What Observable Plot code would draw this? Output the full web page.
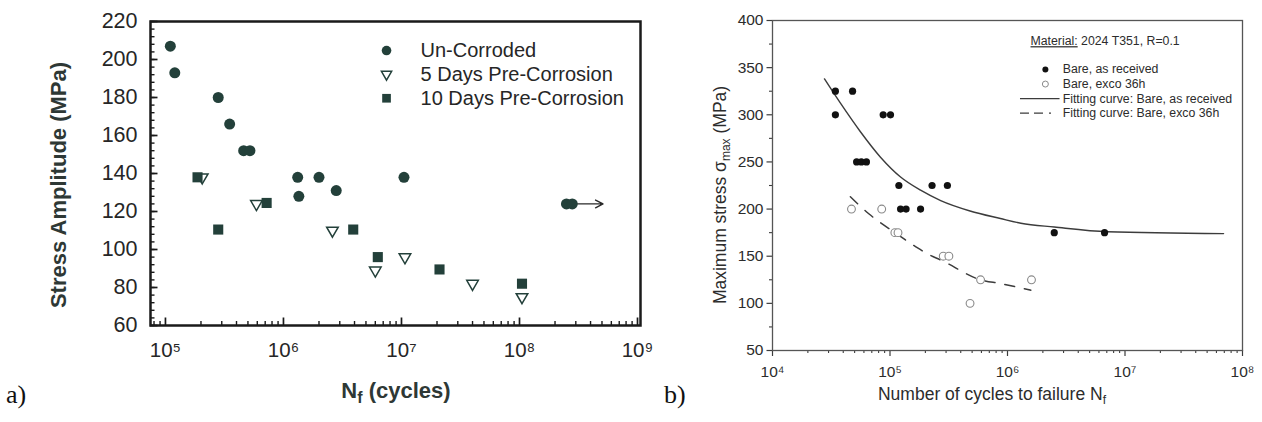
<!DOCTYPE html>
<html>
<head>
<meta charset="utf-8">
<script src="https://cdn.jsdelivr.net/npm/d3@7"></script>
<script src="https://cdn.jsdelivr.net/npm/@observablehq/plot@0.6"></script>
<style>
  body { margin: 0; background: #fff; }
  #page { position: relative; width: 1262px; height: 422px; overflow: hidden; background: #fff; }
  .panel { position: absolute; top: 0; }
  .tag { position: absolute; font-family: "Liberation Serif", "DejaVu Serif", serif; font-size: 26px; color: #111; line-height: 30px; }
</style>
</head>
<body>
<div id="page">
  <div id="pa" class="panel" style="left:0; width:660px; height:422px"></div>
  <div id="pb" class="panel" style="left:660px; width:602px; height:422px"></div>
  <div class="tag" style="left:6px; top:380px">a)</div>
  <div class="tag" style="left:664px; top:380px">b)</div>
</div>
<script>
// ---------- Panel a data ----------
const uncorrodedN = [1.1e5, 1.2e5, 2.8e5, 3.5e5, 4.6e5, 5.2e5, 1.32e6, 1.35e6, 2.0e6, 2.8e6, 1.05e7, 2.5e8, 2.8e8];
const uncorrodedS = [207, 193, 180, 166, 152, 152, 138, 128, 138, 131, 138, 124, 124];
const pre5N = [2.05e5, 5.9e5, 2.6e6, 6.0e6, 1.07e7, 4.0e7, 1.05e8];
const pre5S = [138, 124, 110, 89, 96, 82, 75];
const pre10N = [1.87e5, 2.8e5, 7.2e5, 3.9e6, 6.3e6, 2.1e7, 1.05e8];
const pre10S = [138, 110.5, 124.5, 110.5, 96, 89.5, 82];
const runoutArrow = [{from: 2.8e8, to: 5.1e8, s: 124}];
const legendA = ["Un-Corroded", "5 Days Pre-Corrosion", "10 Days Pre-Corrosion"];
const xTicksA = [1e5, 1e6, 1e7, 1e8, 1e9];
const yTicksA = [60, 80, 100, 120, 140, 160, 180, 200, 220];

// ---------- Panel b data ----------
const bareRecN = [3.43e4, 3.43e4, 4.8e4, 5.2e4, 5.7e4, 6.3e4, 8.75e4, 1.01e5, 1.19e5, 1.23e5, 1.37e5, 1.82e5, 2.28e5, 3.08e5, 2.5e6, 6.7e6];
const bareRecS = [325, 300, 325, 250, 250, 250, 300, 300, 225, 200, 200, 200, 225, 225, 175, 175];
const bareExcoN = [4.7e4, 8.5e4, 1.1e5, 1.17e5, 2.84e5, 3.17e5, 4.8e5, 5.9e5, 1.6e6];
const bareExcoS = [200, 200, 175, 175, 150, 150, 100, 125, 125];
const fitRecN = [2.77e4, 3.8e4, 5.6e4, 8.3e4, 1.23e5, 1.82e5, 2.7e5, 4.8e5, 8.7e5, 1.3e6, 2.5e6, 7.1e6, 6.9e7];
const fitRecS = [338, 312, 282, 255, 234, 220, 209, 198, 190, 185, 181, 176, 174];
const fitExcoN = [4.6e4, 6.6e4, 1.1e5, 1.66e5, 2.2e5, 2.7e5, 5.9e5, 8.7e5, 1.58e6];
const fitExcoS = [213, 195, 175, 160, 151, 146, 125, 121, 114];
const materialNote = ["Material: 2024 T351, R=0.1"];
const legendB = ["Bare, as received", "Bare, exco 36h", "Fitting curve: Bare, as received", "Fitting curve: Bare, exco 36h"];
const xTicksB = [1e4, 1e5, 1e6, 1e7, 1e8];
const yTicksB = [50, 100, 150, 200, 250, 300, 350, 400];

// ---------- helpers ----------
const rows = (N, S) => N.map((n, i) => ({n, s: S[i]}));
const supDigits = {"0":"⁰","1":"¹","2":"²","3":"³","4":"⁴","5":"⁵","6":"⁶","7":"⁷","8":"⁸","9":"⁹"};
const pow10 = d => "10" + String(Math.round(Math.log10(d))).split("").map(c => supDigits[c]).join("");
const logMinor = (k0, k1) => { const out = []; for (let k = k0; k <= k1; k++) for (let m = 2; m <= 9; m++) out.push(m * Math.pow(10, k)); return out; };
const triangleDown = { draw(context, size) {
  const y = Math.sqrt(size / (Math.sqrt(3) * 3));
  context.moveTo(0, 2 * y); context.lineTo(Math.sqrt(3) * y, -y); context.lineTo(-Math.sqrt(3) * y, -y); context.closePath();
}};

const inkA = "#23403a";
const textA = "#262626";
const fontA = "'Liberation Sans', Arial, Helvetica, sans-serif";

// ---------- Panel a ----------
const WA = 660, HA = 422, mlA = 150, mrA = 20, mtA = 21, mbA = 97;
const fwA = WA - mlA - mrA, fhA = HA - mtA - mbA;
const xDomA = [7.47e4, 1.06e9];
const plotA = Plot.plot({
  width: WA, height: HA,
  marginLeft: mlA, marginRight: mrA, marginTop: mtA, marginBottom: mbA,
  style: {fontFamily: fontA, background: "transparent", color: textA},
  x: {type: "log", domain: xDomA},
  y: {domain: [60, 220]},
  marks: [
    // inward ticks
    Plot.tickY(d3.range(60, 221, 4), {y: d => d, insetRight: fwA - 4.5, stroke: "#1a1a1a", strokeWidth: 1.4}),
    Plot.tickY(yTicksA, {y: d => d, insetRight: fwA - 7.5, stroke: "#1a1a1a", strokeWidth: 1.7}),
    Plot.tickX(logMinor(4, 8).filter(v => v > xDomA[0] && v < xDomA[1]), {x: d => d, insetTop: fhA - 4, stroke: "#1a1a1a", strokeWidth: 1.4}),
    Plot.tickX(xTicksA, {x: d => d, insetTop: fhA - 7.5, stroke: "#1a1a1a", strokeWidth: 1.7}),
    // tick labels
    Plot.axisY(yTicksA, {tickSize: 0, tickPadding: 13, fontSize: 21.5, label: null, fill: textA}),
    Plot.axisX(xTicksA, {tickSize: 0, tickPadding: 17, tickFormat: pow10, fontSize: 20.5, label: null, fill: textA}),
    Plot.frame({stroke: "#1a1a1a", strokeWidth: 2.5}),
    Plot.arrow(runoutArrow, {x1: "from", x2: "to", y1: "s", y2: "s", stroke: "#2a2a2a", strokeWidth: 1.4, headLength: 9, headAngle: 55}),
    Plot.dot(rows(uncorrodedN, uncorrodedS), {x: "n", y: "s", r: 5.5, fill: inkA, symbol: "circle"}),
    Plot.dot(rows(pre5N, pre5S), {x: "n", y: "s", r: 4.3, fill: "white", stroke: inkA, strokeWidth: 1.5, symbol: triangleDown}),
    Plot.dot(rows(pre10N, pre10S), {x: "n", y: "s", r: 5.7, fill: inkA, symbol: "square"}),
    // legend
    Plot.dot([legendA[0]], {x: () => 7.47e6, y: () => 204.7, r: 4.8, fill: inkA, symbol: "circle"}),
    Plot.dot([legendA[1]], {x: () => 7.47e6, y: () => 192.2, r: 3.8, fill: "white", stroke: inkA, strokeWidth: 1.5, symbol: triangleDown}),
    Plot.dot([legendA[2]], {x: () => 7.47e6, y: () => 179.6, r: 4.9, fill: inkA, symbol: "square"}),
    Plot.text(legendA, {x: () => 1.45e7, y: (d, i) => 204.7 - i * 12.55, text: d => d, textAnchor: "start", fontSize: 20, fill: textA})
  ]
});
document.getElementById("pa").appendChild(plotA);
{
  const svg = d3.select(plotA);
  svg.append("text")
    .attr("transform", "translate(66,185) rotate(-90)")
    .attr("text-anchor", "middle")
    .attr("font-family", fontA).attr("font-weight", "bold").attr("font-size", 22)
    .attr("fill", "#2e3835")
    .text("Stress Amplitude (MPa)");
  const t = svg.append("text")
    .attr("x", 396).attr("y", 398)
    .attr("text-anchor", "middle")
    .attr("font-family", fontA).attr("font-weight", "bold").attr("font-size", 22)
    .attr("fill", "#2e3835");
  t.append("tspan").text("N");
  t.append("tspan").attr("dy", 5).attr("font-size", 16).text("f");
  t.append("tspan").attr("dy", -5).text(" (cycles)");
}

// ---------- Panel b ----------
const WB = 602, HB = 422, mlB = 112, mrB = 20, mtB = 20, mbB = 72;
const fwB = WB - mlB - mrB, fhB = HB - mtB - mbB;
const inkB = "#3c3c3c";
const textB = "#2c2c2c";
const rowY = i => 348 - i * 15.4;
const plotB = Plot.plot({
  width: WB, height: HB,
  marginLeft: mlB, marginRight: mrB, marginTop: mtB, marginBottom: mbB,
  style: {fontFamily: fontA, background: "transparent", color: textB},
  x: {type: "log", domain: [1e4, 1e8]},
  y: {domain: [50, 400]},
  marks: [
    // outward ticks
    Plot.tickY(d3.range(75, 400, 50), {y: d => d, insetLeft: -3, insetRight: fwB, stroke: inkB, strokeWidth: 1.1}),
    Plot.tickY(yTicksB, {y: d => d, insetLeft: -5.5, insetRight: fwB, stroke: inkB, strokeWidth: 1.2}),
    Plot.tickX(logMinor(4, 7), {x: d => d, insetTop: fhB, insetBottom: -3, stroke: inkB, strokeWidth: 1.1}),
    Plot.tickX(xTicksB, {x: d => d, insetTop: fhB, insetBottom: -6, stroke: inkB, strokeWidth: 1.2}),
    // tick labels
    Plot.axisY(yTicksB, {tickSize: 0, tickPadding: 9, fontSize: 15.5, label: null, fill: textB}),
    Plot.axisX(xTicksB, {tickSize: 0, tickPadding: 15, tickFormat: pow10, fontSize: 15.5, label: null, fill: textB}),
    Plot.frame({stroke: "#555", strokeWidth: 1.3}),
    Plot.line(rows(fitRecN, fitRecS), {x: "n", y: "s", curve: "monotone-x", stroke: inkB, strokeWidth: 1.4}),
    Plot.line(rows(fitExcoN, fitExcoS), {x: "n", y: "s", curve: "monotone-x", stroke: inkB, strokeWidth: 1.5, strokeDasharray: "10,10"}),
    Plot.dot(rows(bareRecN, bareRecS), {x: "n", y: "s", r: 3.6, fill: "#111"}),
    Plot.dot(rows(bareExcoN, bareExcoS), {x: "n", y: "s", r: 3.9, fill: "white", stroke: "#8a8a8a", strokeWidth: 1.1}),
    // legend
    Plot.text(materialNote, {x: () => 1.57e6, y: () => 378, text: d => d, textAnchor: "start", fontSize: 12.3, fill: textB}),
    Plot.dot([legendB[0]], {x: () => 2.1e6, y: () => rowY(0), r: 3, fill: "#111"}),
    Plot.dot([legendB[1]], {x: () => 2.1e6, y: () => rowY(1), r: 3, fill: "white", stroke: "#8a8a8a", strokeWidth: 1}),
    Plot.ruleY([legendB[2]], {y: () => rowY(2), x1: () => 1.29e6, x2: () => 2.8e6, stroke: inkB, strokeWidth: 1.3}),
    Plot.ruleY([legendB[3]], {y: () => rowY(3), x1: () => 1.29e6, x2: () => 2.8e6, stroke: inkB, strokeWidth: 1.4, strokeDasharray: "9,5,9,6,2,20"}),
    Plot.text(legendB, {x: () => 2.95e6, y: (d, i) => rowY(i), text: d => d, textAnchor: "start", fontSize: 12.3, fill: textB})
  ]
});
document.getElementById("pb").appendChild(plotB);
{
  const svg = d3.select(plotB);
  svg.selectAll("text").filter(function() { return this.textContent === materialNote[0]; }).each(function() {
    const el = d3.select(this);
    el.text(null);
    el.append("tspan").attr("text-decoration", "underline").style("text-decoration", "underline").text("Material:");
    el.append("tspan").text(" 2024 T351, R=0.1");
  });
  const yl = svg.append("text")
    .attr("transform", "translate(66,195) rotate(-90)")
    .attr("text-anchor", "middle")
    .attr("font-family", fontA).attr("font-size", 17.5)
    .attr("fill", textB);
  yl.append("tspan").text("Maximum stress σ");
  yl.append("tspan").attr("dy", 4).attr("font-size", 12).text("max");
  yl.append("tspan").attr("dy", -4).text(" (MPa)");
  const xl = svg.append("text")
    .attr("x", 332).attr("y", 400)
    .attr("text-anchor", "middle")
    .attr("font-family", fontA).attr("font-size", 17.5)
    .attr("fill", textB);
  xl.append("tspan").text("Number of cycles to failure N");
  xl.append("tspan").attr("dy", 4).attr("font-size", 12).text("f");
}
</script>
</body>
</html>
